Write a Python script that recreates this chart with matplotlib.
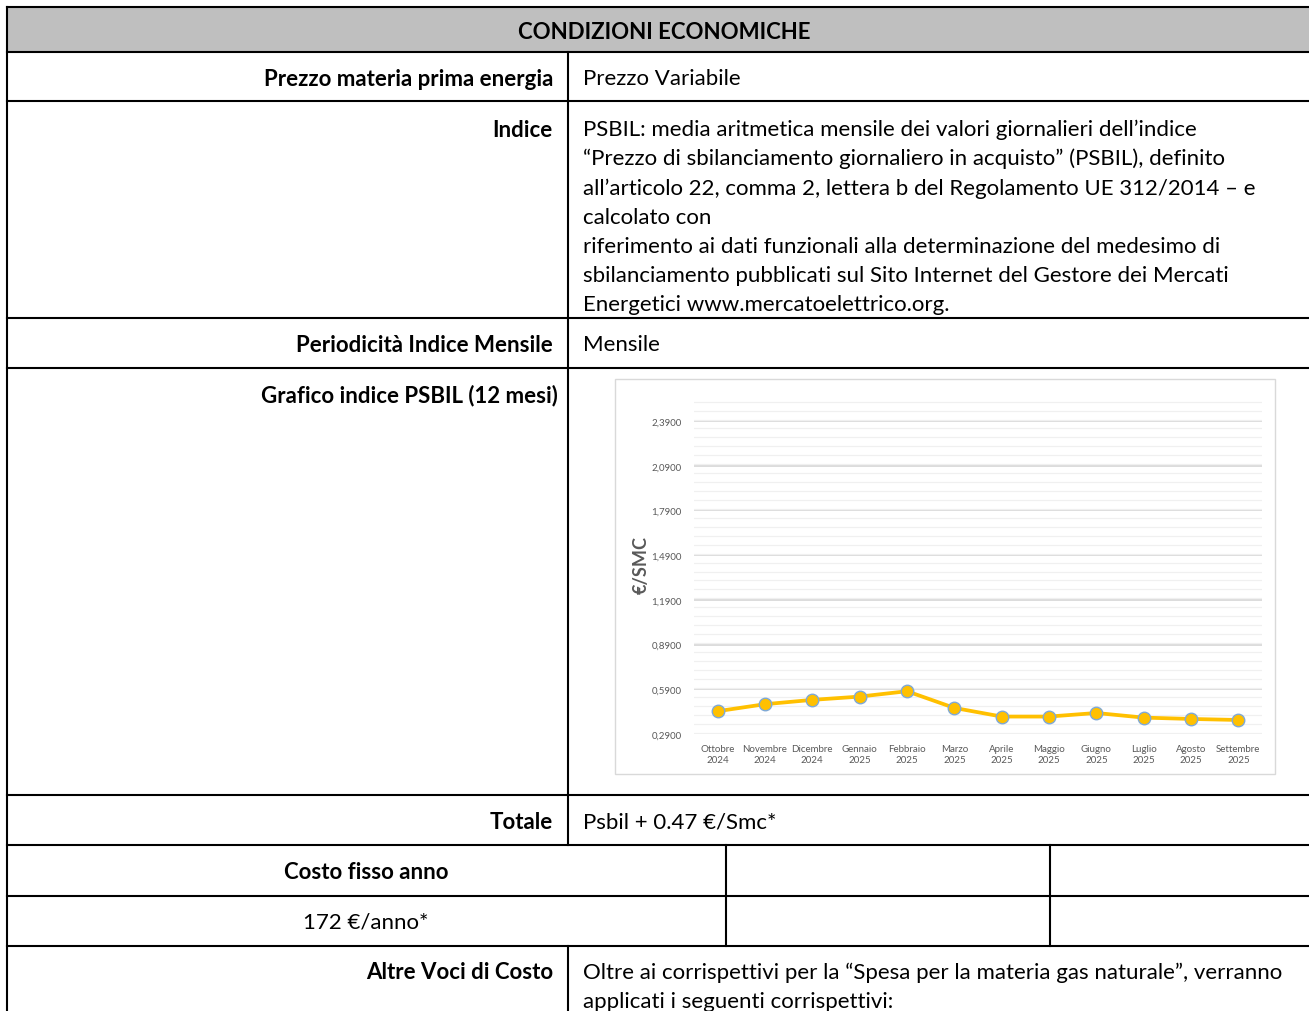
import matplotlib.pyplot as plt
from matplotlib.patches import Rectangle
from matplotlib.ticker import MultipleLocator, FixedLocator
import numpy as np

# chart data (PSBIL, €/Smc)
mesi = ['Ottobre', 'Novembre', 'Dicembre', 'Gennaio', 'Febbraio', 'Marzo',
        'Aprile', 'Maggio', 'Giugno', 'Luglio', 'Agosto', 'Settembre']
anni = ['2024', '2024', '2024', '2025', '2025', '2025',
        '2025', '2025', '2025', '2025', '2025', '2025']
psbil = [0.443, 0.490, 0.519, 0.541, 0.577, 0.465,
         0.407, 0.407, 0.431, 0.400, 0.391, 0.384]
y_ticks = [0.29, 0.59, 0.89, 1.19, 1.49, 1.79, 2.09, 2.39]

# table texts
titolo = 'CONDIZIONI ECONOMICHE'
etichette = ['Prezzo materia prima energia', 'Indice', 'Periodicità Indice Mensile',
             'Grafico indice PSBIL (12 mesi)', 'Totale', 'Altre Voci di Costo']
valori = ['Prezzo Variabile', None, 'Mensile', None, 'Psbil + 0.47 €/Smc*', None]
indice_righe = [
    'PSBIL: media aritmetica mensile dei valori giornalieri dell\u2019indice',
    '\u201cPrezzo di sbilanciamento giornaliero in acquisto\u201d (PSBIL), definito',
    'all\u2019articolo 22, comma 2, lettera b del Regolamento UE 312/2014 \u2013 e',
    'calcolato con',
    'riferimento ai dati funzionali alla determinazione del medesimo di',
    'sbilanciamento pubblicati sul Sito Internet del Gestore dei Mercati',
    'Energetici www.mercatoelettrico.org.',
]
altre_righe = [
    'Oltre ai corrispettivi per la \u201cSpesa per la materia gas naturale\u201d, verranno',
    'applicati i seguenti corrispettivi:',
]
costo_fisso = ['Costo fisso anno', '172 €/anno*']

W, H = 1309, 1012
fig = plt.figure(figsize=(W / 100, H / 100), dpi=100)
plt.rcParams['font.family'] = ['Lato', 'DejaVu Sans']

ax = fig.add_axes([0, 0, 1, 1])
ax.set_xlim(0, W)
ax.set_ylim(H, 0)
ax.axis('off')

fs = 16
lw = 1.5

# header fill
ax.add_patch(Rectangle((7, 8), W, 45, facecolor='#bfbfbf', edgecolor='none'))

# table lines
for y in [8, 53, 102, 319, 369, 796, 846, 897, 947]:
    ax.plot([7, W + 5], [y, y], color='black', lw=lw, solid_capstyle='projecting')
ax.plot([7, 7], [8, H + 5], color='black', lw=lw)
ax.plot([568, 568], [53, 846], color='black', lw=lw)
ax.plot([568, 568], [947, H + 5], color='black', lw=lw)
ax.plot([726, 726], [846, 947], color='black', lw=lw)
ax.plot([1050, 1050], [846, 947], color='black', lw=lw)

ax.text(664, 32, titolo, ha='center', va='center', fontsize=fs, fontweight='bold')

ys_left = [79, 130, 345, 396, 823, 973]
xs_left = [553, 553, 553, 558, 553, 553]
for lab, y, x in zip(etichette, ys_left, xs_left):
    ax.text(x, y, lab, ha='right', va='center', fontsize=fs, fontweight='bold')
for val, y in zip(valori, ys_left):
    if val:
        ax.text(583, y, val, ha='left', va='center', fontsize=fs)

for i, riga in enumerate(indice_righe):
    ax.text(583, 130 + i * 29.2, riga, ha='left', va='center', fontsize=fs)
for i, riga in enumerate(altre_righe):
    ax.text(583, 973 + i * 29.2, riga, ha='left', va='center', fontsize=fs)

ax.text(366, 873, costo_fisso[0], ha='center', va='center', fontsize=fs, fontweight='bold')
ax.text(366, 923, costo_fisso[1], ha='center', va='center', fontsize=fs)

# chart frame
ax.add_patch(Rectangle((615, 380), 660, 395, facecolor='white', edgecolor='#d9d9d9', lw=1))

# chart axes
left, right, top, bottom = 694, 1262, 395.2, 735
cax = fig.add_axes([left / W, 1 - bottom / H, (right - left) / W, (bottom - top) / H])
cax.set_facecolor('none')
x = np.arange(len(mesi))
cax.plot(x, psbil, color='#ffc000', lw=2.7, marker='o', ms=9,
         markerfacecolor='#ffc000', markeredgecolor='#7fa9d6', markeredgewidth=1, zorder=3)
cax.set_xlim(-0.5, len(mesi) - 0.5)
cax.set_ylim(0.29, 2.57)
cax.yaxis.set_major_locator(FixedLocator(y_ticks))
cax.yaxis.set_minor_locator(MultipleLocator(0.06))
cax.set_yticklabels([f'{v:.4f}'.replace('.', ',') for v in y_ticks])
cax.grid(axis='y', which='major', color='#d9d9d9', lw=1.3)
cax.grid(axis='y', which='minor', color='#f0f0f0', lw=0.9)
cax.set_axisbelow(True)
cax.set_xticks(x)
cax.set_xticklabels([f'{m}\n{a}' for m, a in zip(mesi, anni)], linespacing=1.3)
cax.tick_params(axis='both', which='both', length=0, labelsize=7, labelcolor='#595959')
cax.tick_params(axis='y', pad=9)
cax.tick_params(axis='x', pad=7)
for s in cax.spines.values():
    s.set_visible(False)
cax.set_ylabel('€/SMC', fontsize=13, fontweight='bold', color='#595959', labelpad=1)

fig.savefig('out.png', dpi=100)
